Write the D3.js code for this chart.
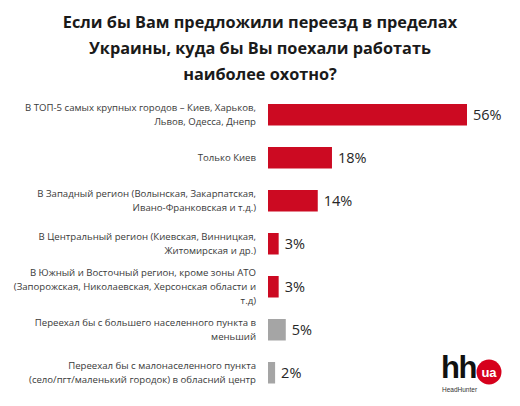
<!DOCTYPE html>
<html>
<head>
<meta charset="utf-8">
<script src="https://cdn.jsdelivr.net/npm/d3@7"></script>
<style>
  body { margin: 0; background: #fff; }
  svg { display: block; }
</style>
</head>
<body>
<svg id="chart"></svg>
<script>
// chart data
var titleLines = ["Если бы Вам предложили переезд в пределах",
                  "Украины, куда бы Вы поехали работать",
                  "наиболее охотно?"];
var categories = [
  ["В ТОП-5 самых крупных городов – Киев, Харьков,", "Львов, Одесса, Днепр"],
  ["Только Киев"],
  ["В Западный регион (Волынская, Закарпатская,", "Ивано-Франковская и т.д.)"],
  ["В Центральный регион (Киевская, Винницкая,", "Житомирская и др.)"],
  ["В Южный и Восточный регион, кроме зоны АТО", "(Запорожская, Николаевская, Херсонская области и", "т.д)"],
  ["Переехал бы с большего населенного пункта в", "меньший"],
  ["Переехал бы с малонаселенного пункта", "(село/пгт/маленький городок) в обласний центр"]
];
var values = [56, 18, 14, 3, 3, 5, 2];
var groups = ["region", "region", "region", "region", "region", "other", "other"];

var width = 520, height = 406;
var colors = { region: "#cc0a22", other: "#a5a5a5" };

var svg = d3.select("#chart")
    .attr("width", width)
    .attr("height", height);

// title
svg.append("text")
    .attr("x", 260)
    .attr("y", 28)
    .attr("text-anchor", "middle")
    .style("font-family", "Open Sans")
    .style("font-weight", "bold")
    .style("font-size", "16.3px")
    .style("fill", "#1a1a1a")
    .selectAll("tspan")
    .data(titleLines)
    .enter()
    .append("tspan")
    .attr("x", 260)
    .attr("dy", function(d, i){ return i == 0 ? 0 : 26; })
    .text(function(d){ return d; });

var x = d3.scaleLinear().domain([0, 56]).range([268, 467]);
var y = d3.scaleBand()
    .domain(d3.range(values.length))
    .range([93.25, 394.25])
    .paddingInner(0.5)
    .paddingOuter(0.25);

// bars
svg.selectAll("rect.bar")
    .data(values)
    .enter()
    .append("rect")
    .attr("class", "bar")
    .attr("x", x(0))
    .attr("y", function(d, i){ return y(i); })
    .attr("width", function(d){ return x(d) - x(0); })
    .attr("height", y.bandwidth())
    .style("fill", function(d, i){ return colors[groups[i]]; });

// value labels
svg.selectAll("text.val")
    .data(values)
    .enter()
    .append("text")
    .attr("class", "val")
    .attr("x", function(d){ return x(d) + 6; })
    .attr("y", function(d, i){ return y(i) + y.bandwidth() / 2; })
    .attr("dy", "0.36em")
    .style("font-family", "Open Sans")
    .style("font-size", "14.5px")
    .style("fill", "#262626")
    .text(function(d){ return d + "%"; });

// category labels
var lineH = 14;
svg.selectAll("text.cat")
    .data(categories)
    .enter()
    .append("text")
    .attr("class", "cat")
    .attr("text-anchor", "end")
    .style("font-family", "Open Sans")
    .style("font-size", "9.6px")
    .style("fill", "#3a3a3a")
    .each(function(lines, i){
        var cy = y(i) + y.bandwidth() / 2;
        var top = cy - (lines.length - 1) * lineH / 2;
        d3.select(this).selectAll("tspan")
            .data(lines)
            .enter()
            .append("tspan")
            .attr("x", 256)
            .attr("y", function(d, j){ return top + j * lineH; })
            .attr("dy", "0.35em")
            .text(function(d){ return d; });
    });

// hh.ua logo
var logo = svg.append("g");
logo.append("text")
    .attr("x", 441)
    .attr("y", 378)
    .style("font-family", "Liberation Sans")
    .style("font-weight", "bold")
    .style("font-size", "31px")
    .style("letter-spacing", "-1.5px")
    .style("fill", "#111")
    .text("hh");
logo.append("circle")
    .attr("cx", 489)
    .attr("cy", 372)
    .attr("r", 12.5)
    .style("fill", "#d6001c");
logo.append("text")
    .attr("x", 489)
    .attr("y", 372)
    .attr("dy", "0.35em")
    .attr("text-anchor", "middle")
    .style("font-family", "Liberation Sans")
    .style("font-weight", "bold")
    .style("font-size", "13px")
    .style("fill", "#fff")
    .text("ua");
logo.append("text")
    .attr("x", 442)
    .attr("y", 392)
    .style("font-family", "Liberation Sans")
    .style("font-size", "6.5px")
    .style("fill", "#333")
    .text("HeadHunter");
</script>
</body>
</html>
